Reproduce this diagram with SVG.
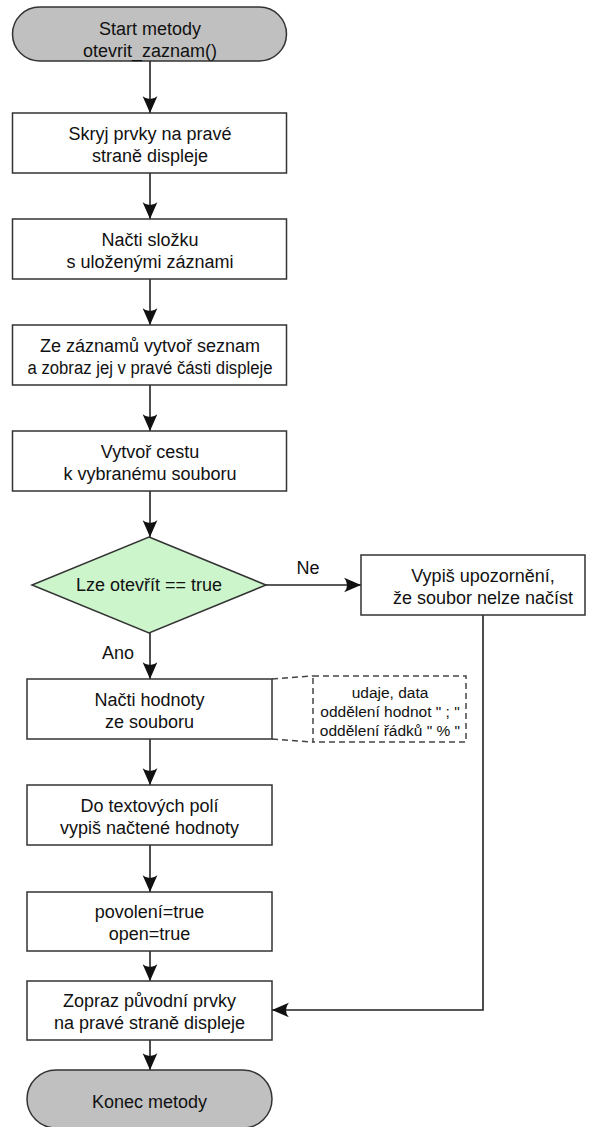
<svg xmlns="http://www.w3.org/2000/svg" width="592" height="1127" viewBox="0 0 592 1127">
  <style>
    text { font-family: "Liberation Sans", Arial, sans-serif; fill: #111; }
    .t { font-size: 18px; text-anchor: middle; }
    .lbl { font-size: 18px; text-anchor: middle; }
    .note { font-size: 15.5px; text-anchor: middle; }
    .box { fill: #fff; stroke: #333; stroke-width: 1.5; }
    .term { fill: #c0c0c0; stroke: #333; stroke-width: 1.5; }
    .dec { fill: #ccf5cc; stroke: #333; stroke-width: 1.5; }
    .dash { fill: #fff; stroke: #444; stroke-width: 1.5; stroke-dasharray: 6 4; }
    .dline { fill: none; stroke: #444; stroke-width: 1.5; stroke-dasharray: 6 4; }
    .con { fill: none; stroke: #222; stroke-width: 1.6; marker-end: url(#arr); }
  </style>
  <defs>
    <marker id="arr" markerUnits="userSpaceOnUse" markerWidth="20" markerHeight="20" viewBox="-17 -8 19 16" refX="0" refY="0" orient="auto">
      <path d="M0,0 L-16,-7 Q-10.5,0 -16,7 Z" fill="#111"/>
    </marker>
  </defs>

  <!-- connectors -->
  <g id="connectors">
    <line class="con" x1="150" y1="61" x2="150" y2="113"/>
    <line class="con" x1="150" y1="173" x2="150" y2="219"/>
    <line class="con" x1="150" y1="279" x2="150" y2="325"/>
    <line class="con" x1="150" y1="385" x2="150" y2="431"/>
    <line class="con" x1="150" y1="491" x2="150" y2="537"/>
    <line class="con" x1="150" y1="633" x2="150" y2="679"/>
    <line class="con" x1="266" y1="585" x2="361" y2="585"/>
    <line class="con" x1="150" y1="739" x2="150" y2="785"/>
    <line class="con" x1="150" y1="845" x2="150" y2="892"/>
    <line class="con" x1="150" y1="951" x2="150" y2="981"/>
    <line class="con" x1="150" y1="1040" x2="150" y2="1070"/>
    <polyline class="con" points="483,615 483,1010 272,1010"/>
    <polyline class="dline" points="272,679 313,676"/>
    <polyline class="dline" points="272,739 313,742"/>
    <text class="lbl" x="308" y="574">Ne</text>
    <text class="lbl" x="118" y="659">Ano</text>
  </g>

  <g id="start">
    <rect class="term" x="12.5" y="7" width="274" height="54" rx="27" ry="27"/>
    <text class="t" x="150" y="35">Start metody</text>
    <text class="t" x="150" y="57">otevrit_zaznam()</text>
  </g>

  <g id="skryj">
    <rect class="box" x="12.5" y="113" width="274" height="60"/>
    <text class="t" x="150" y="140">Skryj prvky na pravé</text>
    <text class="t" x="150" y="162">straně displeje</text>
  </g>

  <g id="nacti-slozku">
    <rect class="box" x="12.5" y="219" width="274" height="60"/>
    <text class="t" x="150" y="246">Načti složku</text>
    <text class="t" x="150" y="268">s uloženými záznami</text>
  </g>

  <g id="seznam">
    <rect class="box" x="12.5" y="325" width="274" height="60"/>
    <text class="t" x="150" y="352">Ze záznamů vytvoř seznam</text>
    <text class="t" x="150" y="374" textLength="245" lengthAdjust="spacingAndGlyphs">a zobraz jej v pravé části displeje</text>
  </g>

  <g id="cesta">
    <rect class="box" x="12.5" y="431" width="274" height="60"/>
    <text class="t" x="150" y="458">Vytvoř cestu</text>
    <text class="t" x="150" y="480">k vybranému souboru</text>
  </g>

  <g id="lze-otevrit">
    <polygon class="dec" points="149,537 266,585 149,633 32,585"/>
    <text class="t" x="149" y="591">Lze otevřít == true</text>
  </g>

  <g id="upozorneni">
    <rect class="box" x="361" y="555" width="224" height="60"/>
    <text class="t" x="483" y="582">Vypiš upozornění,</text>
    <text class="t" x="483" y="604">že soubor nelze načíst</text>
  </g>

  <g id="nacti-hodnoty">
    <rect class="box" x="27" y="679" width="245" height="60"/>
    <text class="t" x="149.5" y="706">Načti hodnoty</text>
    <text class="t" x="149.5" y="728">ze souboru</text>
  </g>

  <g id="poznamka">
    <rect class="dash" x="313" y="676" width="153" height="66"/>
    <text class="note" x="390" y="698">udaje, data</text>
    <text class="note" x="390" y="717">oddělení hodnot " ; "</text>
    <text class="note" x="390" y="736">oddělení řádků " % "</text>
  </g>

  <g id="vypis-hodnoty">
    <rect class="box" x="27" y="785" width="245" height="60"/>
    <text class="t" x="149.5" y="812">Do textových polí</text>
    <text class="t" x="149.5" y="834">vypiš načtené hodnoty</text>
  </g>

  <g id="povoleni">
    <rect class="box" x="27" y="892" width="245" height="59"/>
    <text class="t" x="149.5" y="918">povolení=true</text>
    <text class="t" x="149.5" y="940">open=true</text>
  </g>

  <g id="zopraz">
    <rect class="box" x="27" y="981" width="245" height="59"/>
    <text class="t" x="149.5" y="1007">Zopraz původní prvky</text>
    <text class="t" x="149.5" y="1029">na pravé straně displeje</text>
  </g>

  <g id="konec">
    <rect class="term" x="27" y="1070" width="245" height="58" rx="29" ry="29"/>
    <text class="t" x="149.5" y="1108">Konec metody</text>
  </g>
</svg>
